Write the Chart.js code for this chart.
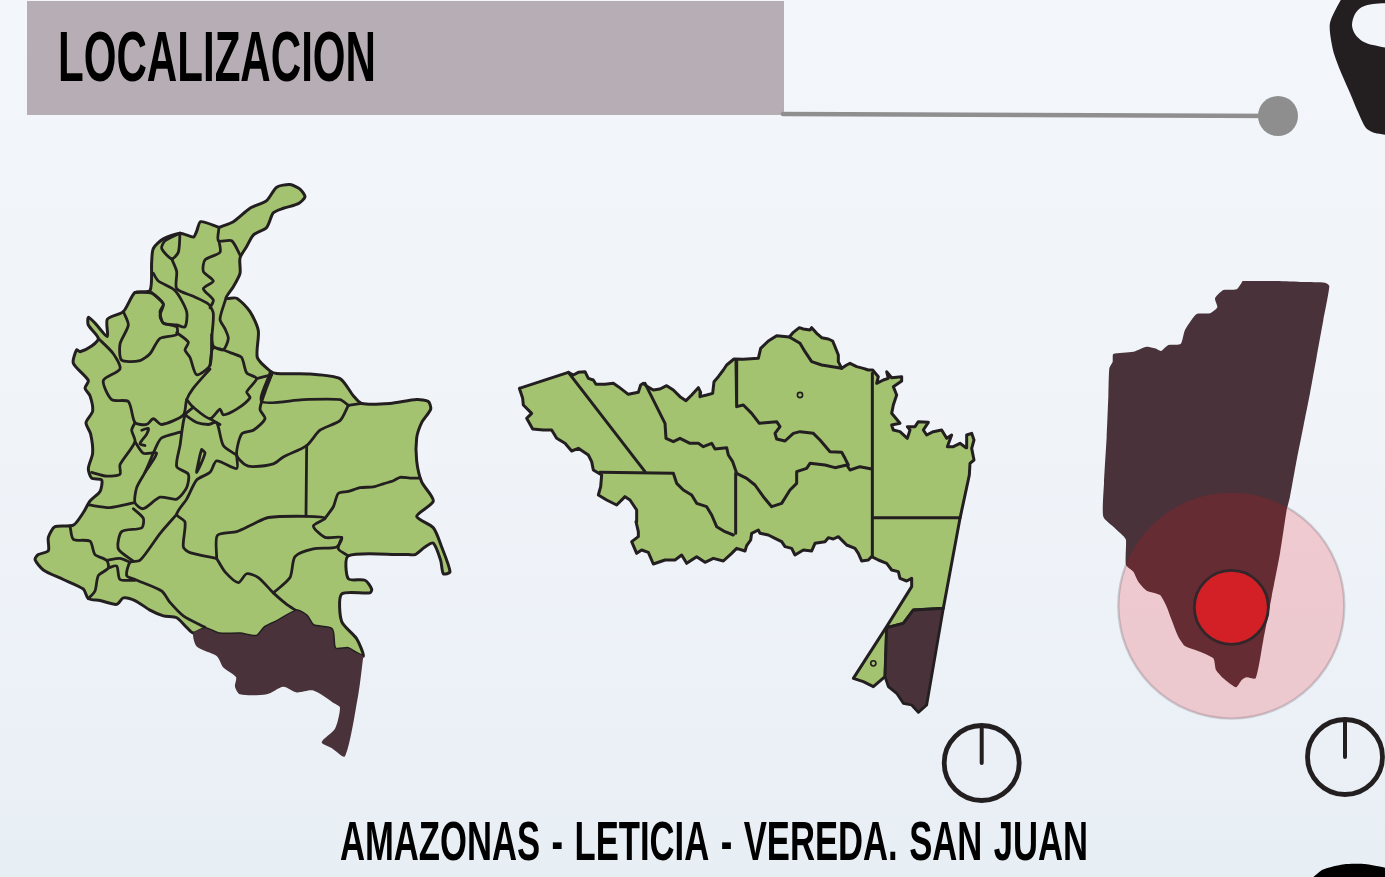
<!DOCTYPE html>
<html lang="es"><head><meta charset="utf-8"><title>Localizacion</title>
<style>html,body{margin:0;padding:0;background:#eff4f9}canvas{display:block}</style>
<script src="https://cdn.jsdelivr.net/npm/chart.js@4/dist/chart.umd.js"></script></head>
<body><canvas id="c" width="1385" height="877"></canvas>
<script>
const titleText = "LOCALIZACION";
const captionText = "AMAZONAS - LETICIA - VEREDA. SAN JUAN";

// page furniture, in page units
const headerBox = [[27,1],[784,1],[784,115],[27,115]];
const headerRule = [[783,114],[1278,116]];
const headerDot = [[1278,116]];
const pinShape = [[1345,-8],[1385,-8],[1392,133],[1375,133],[1366,128],[1358,112],[1350,93],[1340,70],[1333,50],[1330,23]];
const pinHole = [[1392,3],[1373,4],[1362,7],[1355,14],[1352,25],[1355,34],[1362,41],[1373,45],[1392,46]];
const cornerShape = [[1310,880],[1322,870],[1335,866],[1347,864],[1365,864],[1392,870],[1392,880]];
const dialCentres = [[981.7,763],[1345,757]];
const dialHandA = [[981.7,727],[981.7,763]];
const dialHandB = [[1345,720],[1345,757]];

// Colombia map, in units of its own axes
const colOutline = [[597,150],[640,135],[690,100],[740,80],[770,45],[810,38],[840,50],[855,70],[835,88],[790,100],[760,112],[740,150],[700,170],[680,200],[660,230],[660,270],[640,305],[618,335],[650,335],[690,370],[715,420],[712,490],[750,525],[770,532],[870,533],[960,545],[1000,590],[1025,610],[1110,610],[1190,600],[1225,605],[1232,625],[1205,660],[1190,700],[1190,760],[1205,815],[1240,865],[1190,905],[1240,935],[1265,985],[1290,1050],[1270,1055],[1262,1020],[1240,975],[1215,985],[1185,1005],[1165,1005],[1150,1005],[985,1008],[985,1068],[1035,1072],[1055,1095],[1050,1105],[965,1108],[965,1180],[1010,1225],[1030,1270],[1000,1258],[985,1250],[945,1250],[935,1200],[880,1190],[860,1165],[830,1152],[770,1180],[735,1195],[710,1218],[660,1212],[600,1212],[555,1198],[520,1210],[500,1195],[470,1170],[430,1165],[390,1150],[345,1125],[310,1118],[290,1135],[240,1125],[205,1120],[190,1095],[130,1070],[70,1045],[45,1018],[55,1005],[85,995],[85,960],[105,932],[160,928],[190,895],[210,865],[240,840],[245,810],[215,805],[205,780],[218,740],[212,690],[198,660],[218,630],[210,590],[195,570],[205,550],[160,505],[170,470],[180,475],[215,460],[235,440],[205,405],[205,385],[225,400],[262,435],[262,390],[310,370],[345,320],[390,315],[395,240],[400,205],[430,180],[480,165],[520,175],[530,160],[542,135]];
const colDark = [[1030,1270],[1015,1370],[975,1532],[935,1510],[905,1495],[945,1460],[960,1405],[945,1395],[880,1360],[830,1365],[790,1350],[740,1370],[660,1370],[645,1350],[648,1325],[610,1300],[590,1270],[530,1245],[520,1210],[555,1198],[600,1212],[660,1212],[710,1218],[735,1195],[770,1180],[830,1152],[860,1165],[880,1190],[935,1200],[945,1250],[985,1250],[1000,1258]];
const colBorders = [
 [[597,150],[595,185],[635,185],[660,222]],
 [[597,185],[600,215],[555,235],[550,265],[580,290],[550,310],[580,340],[570,360]],
 [[480,165],[475,215],[455,232],[425,205],[435,185],[480,165]],
 [[455,232],[470,265],[470,310],[520,330],[565,350],[580,375],[575,440],[570,510],[530,535],[510,490],[495,470],[505,450],[470,425]],
 [[400,270],[415,290],[465,315],[500,370],[495,410],[470,405],[430,400],[420,370],[430,350],[395,320]],
 [[345,320],[395,322],[430,350],[420,380],[430,400],[470,410],[470,430],[420,440],[390,480],[360,498],[305,497],[300,455],[325,405],[310,370]],
 [[235,440],[280,480],[300,520],[250,550],[275,600],[325,605],[345,660],[380,665],[400,650],[425,665],[490,640],[500,600],[520,570],[570,520]],
 [[618,335],[600,390],[615,415],[625,440],[610,470],[580,460],[575,430]],
 [[570,510],[580,465],[640,480],[665,490],[680,530],[710,545],[680,580],[690,595],[650,625],[610,640],[600,625],[570,650],[520,620],[500,600]],
 [[750,530],[725,605],[850,600],[960,600],[985,615]],
 [[710,545],[755,535]],
 [[985,615],[960,655],[900,680],[860,720],[790,750],[760,768],[700,775],[675,770],[650,745],[665,690],[700,680],[735,650],[720,625],[735,580],[755,535]],
 [[985,615],[1025,610]],
 [[860,720],[858,905]],
 [[520,620],[495,640],[480,720],[470,775],[505,795],[500,830],[470,860],[420,855],[370,885],[345,870],[350,830],[375,790],[410,720],[425,700],[480,685]],
 [[495,640],[530,660],[565,665],[590,660],[610,720],[650,745]],
 [[570,650],[600,665]],
 [[650,745],[650,780],[590,760],[570,790],[530,810],[500,860],[470,900],[495,920],[490,985],[510,1000],[590,1015]],
 [[545,730],[555,740],[530,790],[540,745],[545,730]],
 [[590,1015],[592,955],[650,945],[700,925],[745,908],[860,905],[915,910],[880,930],[915,960],[965,960],[950,985],[880,990],[825,1010],[810,1065],[760,1105]],
 [[915,910],[940,880],[955,845],[985,840],[1020,830],[1060,828],[1090,820],[1120,812],[1140,803],[1170,805],[1200,805]],
 [[965,960],[955,990],[985,1008]],
 [[590,1015],[615,1050],[655,1078],[680,1055],[715,1065],[760,1105],[800,1135],[830,1152]],
 [[555,1195],[490,1165],[450,1130],[425,1100],[345,1070],[320,1060],[330,1025],[360,1020],[420,950],[470,900]],
 [[340,1022],[295,990],[305,945],[365,935],[370,910],[340,885]],
 [[215,790],[260,800],[300,795],[300,770],[345,710],[335,680],[345,660]],
 [[345,710],[370,740],[410,740],[375,790]],
 [[365,680],[385,675],[380,690],[360,715],[375,720]],
 [[205,875],[270,882],[340,870]],
 [[150,930],[160,965],[210,970],[225,1005],[260,1020],[265,1040],[235,1060],[225,1100],[205,1120]],
 [[265,1040],[290,1035],[300,1070],[345,1072]],
 [[260,1020],[300,1015],[330,1025]]
];

// Amazonas map, in units of its own axes
const amaOutline = [[28,220],[175,172],[190,180],[205,172],[225,170],[235,190],[250,195],[258,208],[285,208],[310,205],[325,215],[355,238],[385,232],[392,210],[400,205],[412,215],[430,225],[450,222],[470,212],[490,225],[510,245],[528,257],[545,240],[565,218],[572,232],[570,245],[590,240],[608,235],[612,200],[625,185],[640,165],[650,150],[672,132],[700,133],[745,130],[752,100],[775,78],[800,62],[838,66],[850,52],[868,38],[880,42],[900,45],[905,38],[920,55],[935,68],[955,72],[968,78],[975,95],[985,120],[985,140],[995,160],[1010,150],[1020,145],[1040,155],[1060,160],[1075,165],[1088,165],[1105,185],[1100,205],[1120,195],[1135,190],[1130,170],[1145,188],[1175,185],[1175,198],[1150,215],[1160,240],[1150,270],[1145,295],[1170,325],[1145,330],[1150,345],[1170,350],[1192,370],[1200,345],[1192,335],[1215,335],[1225,320],[1255,322],[1240,345],[1250,360],[1270,350],[1295,345],[1310,370],[1325,360],[1312,395],[1330,395],[1350,385],[1368,398],[1370,360],[1385,355],[1392,375],[1385,400],[1392,435],[1380,445],[1378,480],[1350,610],[1300,880],[1210,885],[1180,925],[1130,938],[1125,1085],[1090,1115],[1060,1100],[1030,1090],[1128,938],[1205,815],[1205,790],[1190,798],[1170,790],[1165,770],[1145,765],[1130,745],[1105,735],[1085,725],[1075,735],[1055,738],[1045,715],[1035,700],[1010,690],[1000,680],[985,665],[970,672],[955,668],[945,680],[915,685],[905,708],[880,705],[855,720],[845,700],[825,695],[815,680],[795,670],[775,660],[750,655],[745,645],[725,655],[722,675],[710,692],[705,708],[680,700],[665,715],[640,738],[610,730],[585,742],[560,725],[530,745],[515,720],[495,735],[465,735],[430,747],[415,712],[395,705],[380,715],[365,680],[385,665],[385,650],[378,620],[380,585],[360,555],[345,545],[320,570],[290,555],[265,540],[272,515],[275,480],[250,465],[245,440],[235,420],[205,400],[185,408],[165,385],[140,370],[125,345],[100,345],[68,342],[50,310],[65,295],[40,270],[38,250]];
const amaDark = [[1300,880],[1210,885],[1180,925],[1130,938],[1125,1085],[1135,1115],[1160,1135],[1180,1165],[1205,1170],[1225,1192],[1250,1170]];
const amaBorders = [
 [[175,172],[405,470]],
 [[270,472],[490,475],[500,505],[520,525],[545,540],[560,565],[590,575],[605,600],[620,635],[645,650],[670,660]],
 [[405,205],[465,325],[468,370],[490,380],[510,370],[540,385],[565,385],[580,395],[605,385],[615,402],[650,398],[655,420],[668,440],[680,475],[710,490],[735,510],[760,545],[785,575],[815,565],[840,525],[860,505],[860,470],[890,460],[900,445],[945,450],[975,458],[1010,450],[1020,465],[1050,455],[1085,462]],
 [[678,135],[680,275],[700,270],[725,295],[748,325],[800,320],[810,335],[795,355],[800,372],[825,378],[850,355],[870,350],[910,355],[930,375],[960,410],[995,412],[1005,430],[1015,450]],
 [[677,475],[677,655]],
 [[1087,175],[1087,725]],
 [[1087,608],[1350,608]],
 [[838,66],[870,85],[885,110],[905,140],[935,150],[995,160]]
];
const amaDots = [[870,240],[1090,1045]];

// Leticia detail, in units of its own axes
const letShape = [[458,33],[560,33],[640,36],[705,38],[718,48],[700,150],[680,260],[660,370],[640,470],[620,570],[600,680],[590,720],[570,850],[545,980],[520,1110],[497,1225],[470,1222],[455,1230],[438,1252],[400,1225],[378,1200],[370,1165],[330,1145],[285,1128],[265,1100],[245,1050],[230,1010],[210,975],[170,962],[145,935],[130,905],[108,885],[108,810],[100,798],[70,770],[40,740],[42,640],[50,500],[55,380],[58,295],[68,275],[70,252],[130,245],[170,230],[195,235],[213,243],[235,225],[272,222],[285,180],[320,132],[360,130],[382,112],[375,85],[400,60],[440,58]];
const letHalo = [[424,1007]];
const letSpot = [[424,1012]];

const GREEN = "#a4c371", DARK = "#49323a", INK = "#231f20";
const pts = a => a.map(p => ({x:p[0], y:p[1]}));
const datasets = [];
const AX = {page:["xP","yP"], col:["xC","yC"], ama:["xA","yA"], let:["xL","yL"]};
function add(ax, o){ o.xAxisID = AX[ax][0]; o.yAxisID = AX[ax][1]; o.order = -datasets.length; datasets.push(o); }
function poly(ax, a, fill, stroke, w, t){
  add(ax,{data:pts(a.concat([a[0]])), showLine:true, fill:"shape", backgroundColor:fill, borderColor:stroke||fill, borderWidth:w||0, pointRadius:0, tension:t||0, borderJoinStyle:"round", borderCapStyle:"round"});
}
function line(ax, a, stroke, w, t){
  add(ax,{data:pts(a), showLine:true, fill:false, borderColor:stroke, borderWidth:w, pointRadius:0, tension:t||0, borderJoinStyle:"round", borderCapStyle:"round"});
}
function dots(ax, a, r, fill, stroke, w){
  add(ax,{data:pts(a), showLine:false, pointRadius:r, pointBackgroundColor:fill, pointBorderColor:stroke, pointBorderWidth:w});
}

poly("page", headerBox, "#b6aeb4");
line("page", headerRule, "#8f8f90", 4.5);
dots("page", headerDot, 20, "#8e8e8f", "#8e8e8f", 0);
poly("page", pinShape, INK, null, 0, .25);
poly("page", pinHole, "#f2f6fa", null, 0, .3);
poly("page", cornerShape, "#000", null, 0, .2);
dots("page", dialCentres, 37.5, "rgba(0,0,0,0)", INK, 4.8);
line("page", dialHandA, INK, 4);
line("page", dialHandB, INK, 4);

poly("col", colOutline, GREEN, INK, 3, .25);
colBorders.forEach(b => line("col", b, INK, 2.8, .25));
poly("col", colDark, DARK, null, 0, .25);

poly("ama", amaOutline, GREEN, INK, 3);
amaBorders.forEach(b => line("ama", b, INK, 3));
poly("ama", amaDark, DARK, INK, 2.8);
dots("ama", amaDots, 2.6, GREEN, INK, 1.6);

dots("let", letHalo, 113, "rgba(0,0,0,0)", "rgba(190,196,202,0.85)", 2.4);
poly("let", letShape, DARK, null, 0, .2);
dots("let", letHalo, 113, "rgba(240,17,25,0.18)", "rgba(0,0,0,0)", 0);
dots("let", letSpot, 37, "#d32027", "#33262a", 2.8);

function hidden(min, max, reverse){ return {type:"linear", display:false, min, max, reverse:!!reverse}; }

const backdrop = {id:"backdrop", beforeDraw(ch){
  const g = ch.ctx, s = g.createLinearGradient(0,0,0,877);
  s.addColorStop(0,"#f3f7fb"); s.addColorStop(.5,"#f0f4f9"); s.addColorStop(.8,"#ecf1f7"); s.addColorStop(1,"#e7eef4");
  g.save(); g.fillStyle = s; g.fillRect(0,0,1385,877); g.restore();
}};
function fitted(g, text, left, base, width, size, gap){
  g.save();
  g.font = 'bold '+size+'px "Liberation Sans Narrow","Liberation Sans",sans-serif';
  g.textBaseline = "alphabetic"; g.textAlign = "left"; g.fillStyle = "#000";
  g.wordSpacing = gap+"px";
  const m = g.measureText(text).width;
  g.translate(left, base); g.scale(width/m, 1);
  g.fillText(text, 0, 0);
  g.restore();
}
const words = {id:"words", afterDatasetsDraw(ch){
  fitted(ch.ctx, titleText, 58, 81, 318, 70, 0);
  fitted(ch.ctx, captionText, 340, 860, 748, 55, 3);
}};

new Chart(document.getElementById("c"), {
  type:"scatter",
  data:{datasets},
  plugins:[backdrop, words],
  options:{
    responsive:false, animation:false, events:[],
    layout:{padding:0, autoPadding:false},
    plugins:{legend:{display:false}, tooltip:{enabled:false}, title:{display:false}},
    scales:{
      xP:hidden(0,1385), yP:hidden(0,877,true),
      xC:hidden(-60,4095), yC:hidden(-444.2,1847.4,true),
      xA:hidden(-1530,2625), yA:hidden(-945,1686,true),
      xL:hidden(-3270,885), yL:hidden(-810,1821,true)
    }
  }
});
</script></body></html>
